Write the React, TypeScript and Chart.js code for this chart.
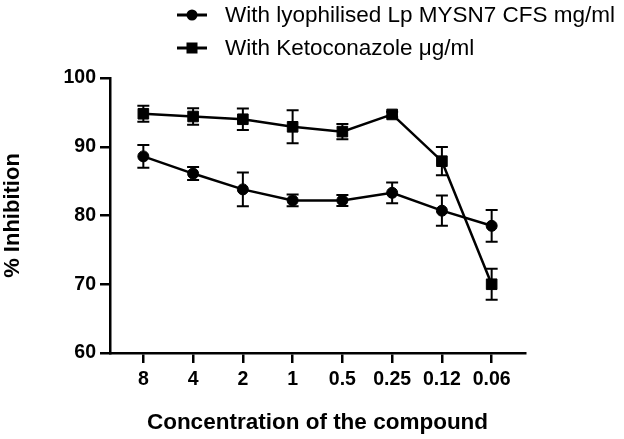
import React, { useEffect, useRef } from "react";
import { Chart, registerables } from "chart.js";

Chart.register(...registerables);

const concentrations = ["8", "4", "2", "1", "0.5", "0.25", "0.12", "0.06"];
const lpValues = [88.6, 86.1, 83.8, 82.2, 82.2, 83.3, 80.7, 78.5];
const lpErrors = [1.65, 0.95, 2.45, 0.85, 0.8, 1.5, 2.2, 2.3];
const ketoValues = [94.8, 94.4, 94.0, 92.9, 92.2, 94.7, 87.9, 70.0];
const ketoErrors = [1.15, 1.2, 1.55, 2.4, 1.1, 0.4, 2.05, 2.25];
const seriesLabels = ["With lyophilised Lp MYSN7 CFS mg/ml", "With Ketoconazole μg/ml"];

const FONT = "'Liberation Sans', Arial, sans-serif";

const errorBarPlugin = {
  id: "errorBars",
  beforeDatasetsDraw(chart: any) {
    const ctx = chart.ctx;
    const yScale = chart.scales.y;
    ctx.save();
    ctx.strokeStyle = "#000";
    ctx.lineWidth = 2;
    chart.data.datasets.forEach((ds: any, di: number) => {
      const meta = chart.getDatasetMeta(di);
      meta.data.forEach((pt: any, i: number) => {
        const v = ds.data[i].y;
        const e = ds.errors[i];
        const yt = yScale.getPixelForValue(v + e);
        const yb = yScale.getPixelForValue(v - e);
        const x = pt.x;
        ctx.beginPath();
        ctx.moveTo(x, yt);
        ctx.lineTo(x, yb);
        ctx.moveTo(x - 6, yt);
        ctx.lineTo(x + 6, yt);
        ctx.moveTo(x - 6, yb);
        ctx.lineTo(x + 6, yb);
        ctx.stroke();
      });
    });
    ctx.restore();
  },
};

const legendPlugin = {
  id: "customLegend",
  afterDraw(chart: any) {
    const ctx = chart.ctx;
    const rows = [15, 48];
    ctx.save();
    chart.data.datasets.forEach((ds: any, i: number) => {
      const y = rows[i];
      ctx.strokeStyle = "#000";
      ctx.fillStyle = "#000";
      ctx.lineWidth = 3;
      ctx.beginPath();
      ctx.moveTo(177, y);
      ctx.lineTo(207, y);
      ctx.stroke();
      if (ds.pointStyle === "rect") {
        ctx.fillRect(192 - 5.5, y - 5.5, 11, 11);
      } else {
        ctx.beginPath();
        ctx.arc(192, y, 5.5, 0, Math.PI * 2);
        ctx.fill();
      }
      ctx.font = `22.5px ${FONT}`;
      ctx.textBaseline = "middle";
      ctx.textAlign = "left";
      ctx.fillText(ds.label, 225, y + 1);
    });
    ctx.restore();
  },
};

export default function App() {
  const ref = useRef<HTMLCanvasElement>(null);

  useEffect(() => {
    if (!ref.current) return;
    const chart = new Chart(ref.current, {
      type: "line",
      data: {
        datasets: [
          {
            label: seriesLabels[0],
            data: lpValues.map((v, i) => ({ x: i, y: v })),
            errors: lpErrors,
            borderColor: "#000",
            backgroundColor: "#000",
            borderWidth: 2.5,
            pointStyle: "circle",
            pointRadius: 5.5,
            pointBorderWidth: 1,
            tension: 0,
          } as any,
          {
            label: seriesLabels[1],
            data: ketoValues.map((v, i) => ({ x: i, y: v })),
            errors: ketoErrors,
            borderColor: "#000",
            backgroundColor: "#000",
            borderWidth: 2.5,
            pointStyle: "rect",
            pointRadius: 7.5,
            pointBorderWidth: 1,
            tension: 0,
          } as any,
        ],
      },
      options: {
        responsive: false,
        animation: false,
        layout: { padding: { top: 78, right: 99, bottom: 0, left: 0 } },
        plugins: {
          legend: { display: false },
          tooltip: { enabled: false },
        },
        scales: {
          x: {
            type: "linear",
            min: -0.67,
            max: 7.67,
            afterBuildTicks: (scale: any) => {
              scale.ticks = concentrations.map((_, i) => ({ value: i }));
            },
            afterFit: (scale: any) => {
              scale.height = 86;
            },
            grid: {
              display: true,
              drawOnChartArea: false,
              drawTicks: true,
              tickLength: 10,
              color: "#000",
              lineWidth: 2.5,
            },
            border: { display: true, color: "#000", width: 2.5 },
            ticks: {
              autoSkip: false,
              maxRotation: 0,
              padding: 5,
              color: "#000",
              font: { family: FONT, size: 19.5, weight: "bold" },
              callback: (v: any) => concentrations[Math.round(Number(v))],
            },
            title: {
              display: true,
              text: "Concentration of the compound",
              color: "#000",
              font: { family: FONT, size: 22.5, weight: "bold" },
              padding: { top: 0, bottom: 3 },
            },
          },
          y: {
            min: 60,
            max: 100,
            afterFit: (scale: any) => {
              scale.width = 110;
            },
            grid: {
              display: true,
              drawOnChartArea: false,
              drawTicks: true,
              tickLength: 10,
              color: "#000",
              lineWidth: 2.5,
            },
            border: { display: true, color: "#000", width: 2.5 },
            ticks: {
              stepSize: 10,
              padding: 4,
              color: "#000",
              font: { family: FONT, size: 19.5, weight: "bold" },
            },
            title: {
              display: true,
              text: "% Inhibition",
              color: "#000",
              font: { family: FONT, size: 22, weight: "bold" },
              padding: { top: 0, bottom: 0 },
            },
          },
        },
      },
      plugins: [errorBarPlugin, legendPlugin],
    } as any);
    return () => chart.destroy();
  }, []);

  return (
    <div style={{ position: "fixed", left: 0, top: 0, width: 624, height: 439, background: "#fff" }}>
      <canvas ref={ref} width={624} height={439} />
    </div>
  );
}
